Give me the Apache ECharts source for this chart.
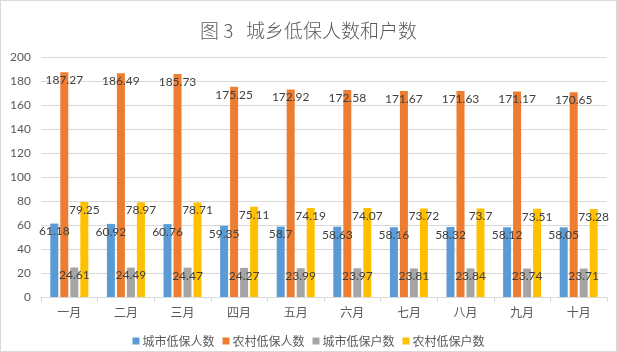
<!DOCTYPE html>
<html><head><meta charset="utf-8">
<script src="https://cdn.jsdelivr.net/npm/echarts@6/dist/echarts.min.js"></script>
<style>html,body{margin:0;padding:0;background:#fff}#c{width:615px;height:350px;border:1px solid #d9d9d9}</style>
</head><body><div id="c"></div>
<script>
const months = ['一月','二月','三月','四月','五月','六月','七月','八月','九月','十月'];
const seriesNames = ['城市低保人数','农村低保人数','城市低保户数','农村低保户数'];
const urbanPeople = [61.18,60.92,60.76,59.35,58.7,58.63,58.16,58.32,58.12,58.05];
const ruralPeople = [187.27,186.49,185.73,175.25,172.92,172.58,171.67,171.63,171.17,170.65];
const urbanHouseholds = [24.61,24.49,24.47,24.27,23.99,23.97,23.81,23.84,23.74,23.71];
const ruralHouseholds = [79.25,78.97,78.71,75.11,74.19,74.07,73.72,73.7,73.51,73.28];
const colors = ['#5B9BD5','#ED7D31','#A5A5A5','#FFC000'];
const numFont = 'Lato, "Noto Sans CJK SC", sans-serif';
const cjkFont = '"Noto Sans CJK SC", sans-serif';
const chart = echarts.init(document.getElementById('c'));
const data = [urbanPeople, ruralPeople, urbanHouseholds, ruralHouseholds];
chart.setOption({
  animation:false,
  color: colors,
  title:{text:'图 3   城乡低保人数和户数',left:'center',top:15,textStyle:{fontFamily:cjkFont,fontSize:19,fontWeight:300,color:'#595959'}},
  legend:{bottom:-1,left:'center',itemWidth:7,itemHeight:7,itemGap:8,icon:'rect',
    textStyle:{fontFamily:cjkFont,fontSize:12,color:'#595959',padding:[0,0,0,-2]}},
  grid:{left:40,right:9,top:56,bottom:54},
  xAxis:{type:'category',data:months,
    axisLine:{lineStyle:{color:'#d9d9d9'}},
    axisTick:{show:true,length:5,lineStyle:{color:'#d9d9d9'}},
    axisLabel:{fontFamily:cjkFont,fontSize:12,color:'#595959',margin:9}},
  yAxis:{type:'value',min:0,max:200,interval:20,
    axisLine:{show:false},axisTick:{show:false},
    splitLine:{lineStyle:{color:'#d9d9d9'}},
    axisLabel:{fontFamily:numFont,fontSize:12,color:'#595959',margin:10}},
  series: seriesNames.map((n,i)=>({
    name:n,type:'bar',data:data[i],barWidth:8,barGap:'25%',
    label:{show:true,position:'insideTop',distance:2,fontFamily:numFont,fontSize:12,color:'#404040'}
  }))
});
</script></body></html>
